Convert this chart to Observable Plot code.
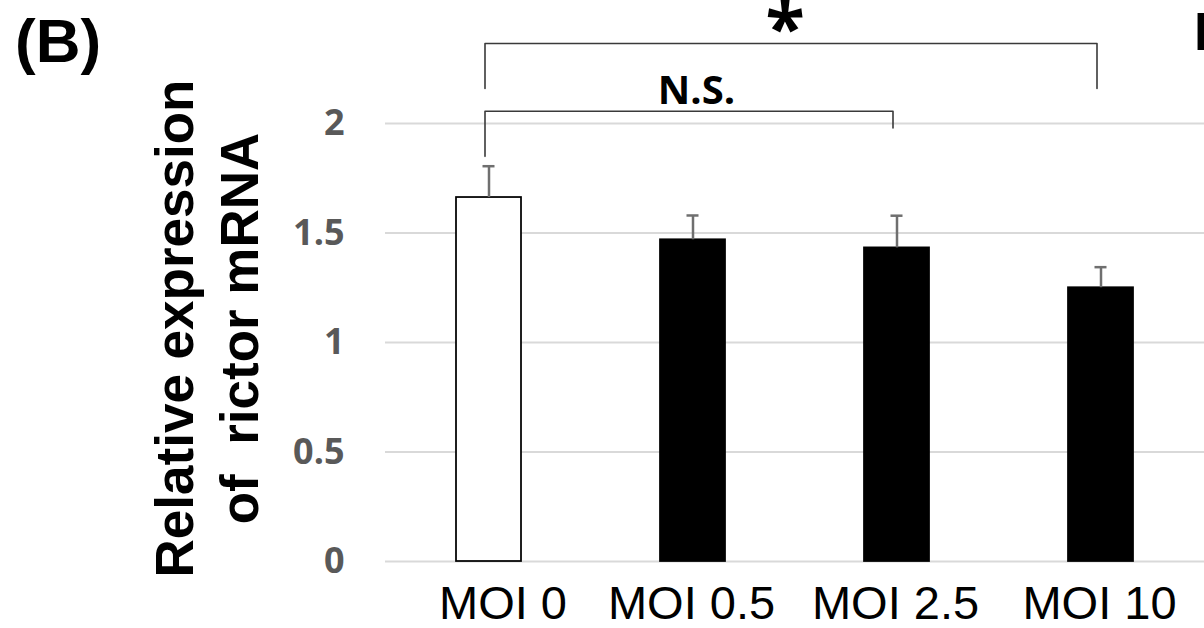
<!DOCTYPE html>
<html><head><meta charset="utf-8">
<script src="https://cdn.jsdelivr.net/npm/d3@7"></script>
<script src="https://cdn.jsdelivr.net/npm/@observablehq/plot@0.6"></script>
<style>
html,body{margin:0;padding:0;overflow:hidden;background:#fff;}
#wrap{position:relative;width:1204px;height:628px;overflow:hidden;}
#wrap svg text{white-space:pre;}
.panel{position:absolute;font-family:"Liberation Sans",Arial,sans-serif;font-weight:bold;line-height:1;color:#000;white-space:nowrap;}
</style></head><body>
<div id="wrap"></div>
<script>
const categories = ["MOI 0", "MOI 0.5", "MOI 2.5", "MOI 10"];
const means = [1.662, 1.469, 1.432, 1.250];
const errors = [0.143, 0.111, 0.147, 0.094];
const yTicks = [0, 0.5, 1, 1.5, 2];
const yTitle = "Relative expression\nof  rictor mRNA";
const panelLabel = "(B)";
const nextPanelLabel = "D";
const sigLabels = ["*", "N.S."];
const bracketFrom = ["MOI 0", "MOI 0"];
const bracketTo = ["MOI 10", "MOI 2.5"];
const bracketTop = [2.365, 2.056];
const bracketLegFrom = [2.16, 1.85];
const bracketLegTo = [2.16, 1.98];
const sigY = [2.318, 2.091];

const bars = categories.map((c, i) => ({cat: c, mean: means[i], err: errors[i]}));
const brackets = bracketFrom.flatMap((f, k) => [
  {k, x: f, y: bracketLegFrom[k]},
  {k, x: f, y: bracketTop[k]},
  {k, x: bracketTo[k], y: bracketTop[k]},
  {k, x: bracketTo[k], y: bracketLegTo[k]}
]);

const xAxisStyle = {tickSize: 0, tickPadding: 24, label: null, fontSize: 47, fontFamily: "Liberation Sans", fill: "black", color: "black"};

const plot = Plot.plot({
  width: 1204, height: 628,
  marginLeft: 385, marginRight: 0, marginTop: 123, marginBottom: 67,
  style: {background: "white", overflow: "visible"},
  x: {domain: categories, paddingInner: 0.683, paddingOuter: 0.3415},
  y: {domain: [0, 2]},
  marks: [
    Plot.ruleY(yTicks, {stroke: "#d9d9d9", strokeWidth: 2}),
    Plot.axisY({ticks: yTicks, tickSize: 0, tickPadding: 41, label: null, tickFormat: d => String(d),
      fontSize: 36, fontWeight: "bold", fontFamily: "Open Sans", fill: "#595959", color: "#595959"}),
    Plot.axisX({...xAxisStyle, ticks: categories.slice(0, 1), dx: 14}),
    Plot.axisX({...xAxisStyle, ticks: categories.slice(1), dx: -1.5}),
    Plot.barY(bars, {x: "cat", y: "mean", fill: d => d.cat === categories[0] ? "white" : "black", stroke: "black", strokeWidth: 1.75}),
    Plot.ruleX(bars, {x: "cat", y1: "mean", y2: d => d.mean + d.err, stroke: "#6f6f6f", strokeWidth: 2.5}),
    Plot.tickY(bars, {x: "cat", y: d => d.mean + d.err, stroke: "#6f6f6f", strokeWidth: 2.5, insetLeft: 26.5, insetRight: 26.5}),
    Plot.line(brackets, {x: "x", y: "y", z: "k", stroke: "#3a3a3a", strokeWidth: 1.6, dx: -4, curve: "linear"}),
    Plot.text([sigLabels[1]], {x: () => categories[1], y: () => sigY[1], text: d => d, dx: 3.5, lineAnchor: "bottom",
      fontSize: 40, fontWeight: "bold", fontFamily: "Open Sans", fill: "black"}),
    Plot.text([sigLabels[0]], {x: () => categories[2], y: () => sigY[0], text: d => d, dx: -112, lineAnchor: "bottom",
      fontSize: 72, fontWeight: "bold", fontFamily: "Open Sans", fill: "black"}),
    Plot.text([yTitle], {frameAnchor: "left", text: d => d, rotate: -90, dx: -180.5, dy: -14, textAnchor: "middle",
      fontSize: 53, fontWeight: "bold", fontFamily: "Liberation Sans", lineHeight: 1.2264, fill: "black"})
  ]
});

const wrap = document.getElementById("wrap");
wrap.appendChild(plot);
const p1 = document.createElement("div");
p1.className = "panel";
p1.textContent = panelLabel;
p1.style.cssText = "left:15px;top:10px;font-size:62px;";
wrap.appendChild(p1);
const p2 = document.createElement("div");
p2.className = "panel";
p2.textContent = nextPanelLabel;
p2.style.cssText = "left:1194px;top:5px;font-size:53px;";
wrap.appendChild(p2);
</script>
</body></html>
